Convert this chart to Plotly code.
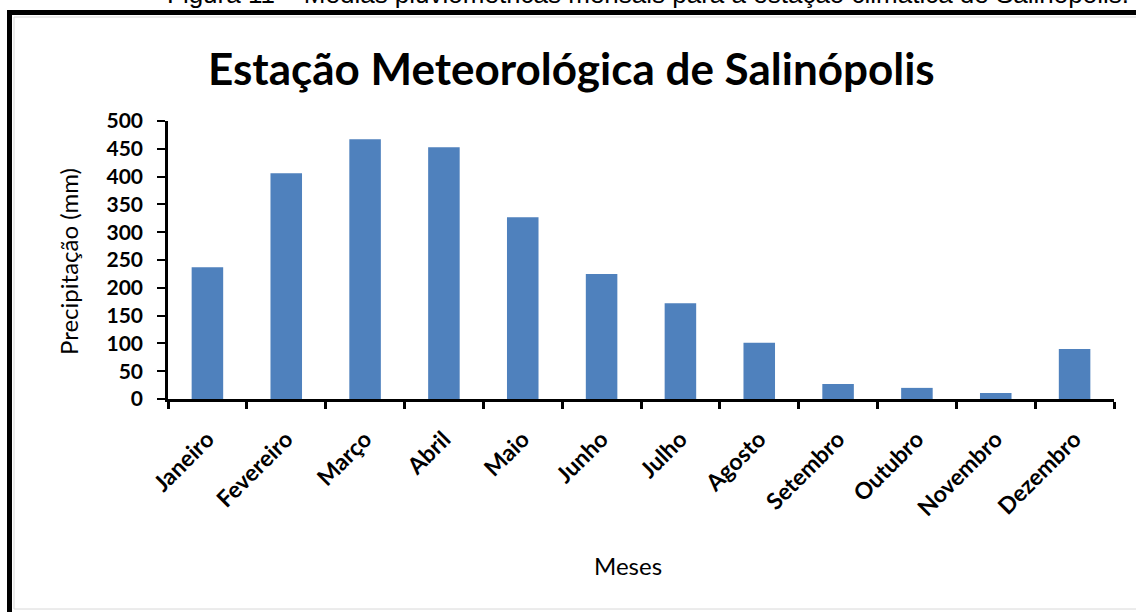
import plotly.graph_objects as go

months = ["Janeiro", "Fevereiro", "Março", "Abril", "Maio", "Junho",
          "Julho", "Agosto", "Setembro", "Outubro", "Novembro", "Dezembro"]
precip_mm = [237, 406, 467, 453, 327, 225, 172, 101, 27, 20, 11, 90]
y_ticks = [0, 50, 100, 150, 200, 250, 300, 350, 400, 450, 500]

W, H = 1136, 612
L, R, T, B = 168, 22, 121, 213
PW, PH = W - L - R, H - T - B

def px(x):
    return (x - L) / PW

def py(y):
    return (H - B - y) / PH

FONT = "Lato"

fig = go.Figure(go.Bar(
    x=months, y=precip_mm,
    marker=dict(color="#4F81BD", line=dict(width=0)),
))

fig.update_layout(
    width=W, height=H,
    margin=dict(l=L, r=R, t=T, b=B),
    paper_bgcolor="white", plot_bgcolor="white",
    bargap=0.6, showlegend=False,
    font=dict(family=FONT, color="black"),
    xaxis=dict(
        showline=True, linecolor="black", linewidth=2.5,
        ticks="outside", tickson="boundaries", ticklen=7, tickwidth=2.5, tickcolor="black",
        tickangle=-45, ticklabelstandoff=15,
        tickfont=dict(family=FONT, size=23, color="black", weight="bold"),
        showgrid=False,
    ),
    yaxis=dict(
        range=[0, 500], tickvals=y_ticks,
        showline=True, linecolor="black", linewidth=2.5,
        ticks="outside", ticklen=8, tickwidth=2, tickcolor="black",
        ticklabelstandoff=10,
        tickfont=dict(family=FONT, size=21, color="black", weight="bold"),
        showgrid=False, zeroline=False,
    ),
)

annotations = [
    dict(text="<b>Estação Meteorológica de Salinópolis</b>", x=px(571), y=py(68),
         xref="paper", yref="paper", xanchor="center", yanchor="middle", showarrow=False,
         font=dict(family=FONT, size=44, color="black")),
    dict(text="Precipitação (mm)", x=px(68), y=py(262), xref="paper", yref="paper",
         xanchor="center", yanchor="middle", showarrow=False, textangle=-90,
         font=dict(family=FONT, size=24, color="black")),
    dict(text="Meses", x=px(628), y=py(565), xref="paper", yref="paper",
         xanchor="center", yanchor="middle", showarrow=False,
         font=dict(family=FONT, size=24, color="black")),
    dict(text="Figura 11 – Médias pluviométricas mensais para a estação climática de Salinópolis.",
         x=px(648), y=py(-6), xref="paper", yref="paper", xanchor="center", yanchor="middle",
         showarrow=False, font=dict(family="Liberation Sans", size=26, color="black")),
]
fig.update_layout(annotations=annotations)

shapes = [
    dict(type="line", xref="paper", yref="paper", x0=px(9.5), x1=px(9.5), y0=py(10), y1=py(620),
         line=dict(color="black", width=5)),
    dict(type="line", xref="paper", yref="paper", x0=px(7), x1=px(1140), y0=py(12.5), y1=py(12.5),
         line=dict(color="black", width=5)),
    dict(type="rect", xref="paper", yref="paper", x0=px(14), x1=px(1140), y0=py(609), y1=py(17),
         line=dict(color="#d8d8d8", width=1)),
]
fig.update_layout(shapes=shapes)

fig.write_html("out.html", config={"displayModeBar": False},
               post_script="document.body.style.margin='0';")
